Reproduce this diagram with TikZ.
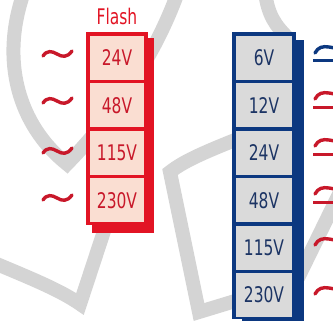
\documentclass[tikz,border=0pt]{standalone}
\usepackage{fontspec}
\setmainfont{DejaVu Sans}[FakeStretch=0.72]
\usepackage{tikz}
\usetikzlibrary{positioning}
\definecolor{flashred}{RGB}{226,20,36}
\definecolor{redtext}{RGB}{200,24,42}
\definecolor{pinkfill}{RGB}{250,222,210}
\definecolor{navy}{RGB}{12,56,128}
\definecolor{bluetext}{RGB}{28,52,100}
\definecolor{greyfill}{RGB}{218,218,218}
\definecolor{wmgrey}{RGB}{212,212,212}

\begin{document}
\begin{tikzpicture}[x=1pt,y=-1pt,node distance=3pt,font=\fontsize{21.5}{24}\selectfont]
        \tikzstyle{redcell}=[rectangle,minimum width=54pt,minimum height=44pt,inner sep=0pt,fill=pinkfill,text=redtext]
        \tikzstyle{bluecell}=[redcell,minimum width=56pt,fill=greyfill,text=bluetext]
        \tikzstyle{wmline}=[draw=wmgrey,line width=14pt]
        \tikzstyle{wave}=[draw=redtext,line width=3.4pt,line cap=round]
        \useasboundingbox (0,0) rectangle (333,321);
        \clip (0,0) rectangle (333,321);
        % watermark in the back
        \draw[wmline] (24,-8) .. controls (0,60) and (18,125) .. (67,164) .. controls (100,130) and (150,70) .. (178,-8);
        \draw[wmline] (-8,262) .. controls (30,278) and (60,290) .. (80,304) -- (106,225);
        \draw[wmline] (245,136) .. controls (210,150) and (185,160) .. (170,172) -- (199,312) -- (245,298);
        \draw[wmline] (265,-8) .. controls (268,15) and (275,25) .. (288,38);
        \draw[wmline] (342,188) -- (298,278);
        % flash block
        \fill[flashred] (92,38) rectangle (154,233);
        \fill[flashred] (86,32) rectangle (148,225);
        \node[redcell] (r24) at (117,58) {24V};
        \node[redcell,below=of r24] (r48) {48V};
        \node[redcell,below=of r48] (r115) {115V};
        \node[redcell,below=of r115] (r230) {230V};
        \node[inner sep=0pt,text=flashred,above=11pt of r24] (flash) {Flash};
        \foreach \y in {54,101,151,198}
          \draw[wave] (43,{\y+2}) .. controls (47,{\y-4}) and (52,{\y-3}) .. (57,\y) .. controls (62,{\y+3}) and (67,{\y+4}) .. (72,{\y-3});
        % voltage block
        \fill[navy] (242,40) rectangle (304,330);
        \fill[navy] (232,32) rectangle (296,319);
        \node[bluecell] (b6) at (264,58) {6V};
        \node[bluecell,below=of b6] (b12) {12V};
        \node[bluecell,below=of b12] (b24) {24V};
        \node[bluecell,below=of b24] (b48) {48V};
        \node[bluecell,below=of b48] (b115) {115V};
        \node[bluecell,below=of b115] (b230) {230V};
        \draw[wave,draw=navy] (315,53) .. controls (318,47) and (323,46) .. (329,47) -- (340,49);
        \draw[line width=3pt,navy] (313,61) -- (340,61);
        \foreach \y in {94,141,189} {
          \draw[wave] (315,{\y+5}) .. controls (318,{\y-1}) and (323,{\y-2}) .. (329,{\y-1}) -- (340,{\y+1});
          \draw[line width=3pt,redtext] (313,{\y+14}) -- (340,{\y+14});
        }
        \foreach \y in {240,289}
          \draw[wave] (315,{\y+5}) .. controls (318,{\y-1}) and (323,{\y-2}) .. (329,{\y-1}) -- (340,{\y+1});
\end{tikzpicture}
\end{document}
